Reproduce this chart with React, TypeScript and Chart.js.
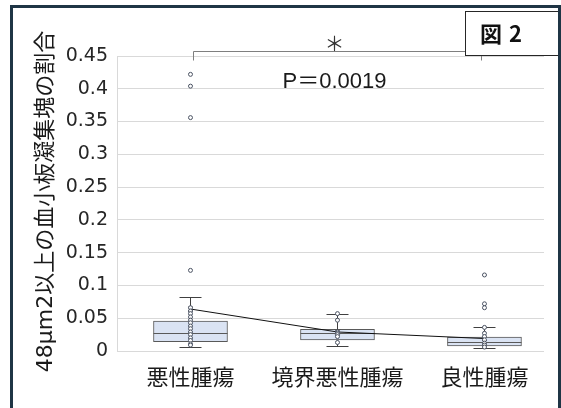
import React, { useEffect, useRef } from "react";
import { Chart, registerables } from "chart.js";

Chart.register(...registerables);

// ---- data ----
const categories = ["悪性腫瘍", "境界悪性腫瘍", "良性腫瘍"];
const whiskerLow = [0.0056, 0.0081, 0.004];
const q1 = [0.0142, 0.0168, 0.0076];
const median = [0.027, 0.027, 0.0133];
const q3 = [0.0457, 0.033, 0.0213];
const whiskerHigh = [0.0818, 0.056, 0.037];
const means = [0.064, 0.029, 0.019];
const pointsMalignant = [
  0.422, 0.404, 0.356, 0.123, 0.066, 0.061, 0.057, 0.052, 0.047, 0.043, 0.038,
  0.034, 0.029, 0.025, 0.02, 0.016, 0.011, 0.009,
];
const pointsBorderline = [0.057, 0.047, 0.029, 0.027, 0.025, 0.022, 0.013];
const pointsBenign = [0.116, 0.072, 0.066, 0.036, 0.027, 0.022, 0.017, 0.012, 0.009, 0.006];
const yTicks = [0, 0.05, 0.1, 0.15, 0.2, 0.25, 0.3, 0.35, 0.4, 0.45];
const yTitle = "48μm2以上の血小板凝集塊の割合";
const pValueText = "P＝0.0019";
const sigMark = "＊";
const figLabel = "図2";

const CJK = '"Noto Sans CJK JP", sans-serif';
const LATIN_CJK = '"DejaVu Sans", "Noto Sans CJK JP", sans-serif';

const dotData = [
  ...pointsMalignant.map((v) => ({ x: 0, y: v })),
  ...pointsBorderline.map((v) => ({ x: 1, y: v })),
  ...pointsBenign.map((v) => ({ x: 2, y: v })),
];

const annotate = {
  id: "annotate",
  afterDatasetDraw(chart: any, args: any) {
    if (args.index !== 2) return;
    const { ctx, scales } = chart;
    const x = scales.x;
    const y = scales.y;
    const meta = chart.getDatasetMeta(2);
    ctx.save();
    ctx.lineWidth = 1;
    categories.forEach((_, i) => {
      const bar = meta.data[i];
      const cx = Math.round(x.getPixelForValue(i)) + 0.5;
      const left = bar.x - bar.width / 2;
      const right = bar.x + bar.width / 2;
      const py = (v: number) => Math.round(y.getPixelForValue(v)) + 0.5;
      // median
      ctx.strokeStyle = "#595959";
      ctx.beginPath();
      ctx.moveTo(left, py(median[i]));
      ctx.lineTo(right, py(median[i]));
      ctx.stroke();
      // whiskers
      ctx.strokeStyle = "#404040";
      ctx.beginPath();
      ctx.moveTo(cx, py(q3[i]));
      ctx.lineTo(cx, py(whiskerHigh[i]));
      ctx.moveTo(cx - 11, py(whiskerHigh[i]));
      ctx.lineTo(cx + 11, py(whiskerHigh[i]));
      ctx.moveTo(cx, py(q1[i]));
      ctx.lineTo(cx, py(whiskerLow[i]));
      ctx.moveTo(cx - 11, py(whiskerLow[i]));
      ctx.lineTo(cx + 11, py(whiskerLow[i]));
      ctx.stroke();
    });
    ctx.restore();
  },
  afterDraw(chart: any) {
    const { ctx, scales } = chart;
    const x = scales.x;
    const y = scales.y;
    ctx.save();
    // y title
    ctx.save();
    ctx.translate(46, (y.top + y.bottom) / 2 - 2);
    ctx.rotate(-Math.PI / 2);
    ctx.font = `22px ${LATIN_CJK}`;
    ctx.fillStyle = "#1a1a1a";
    ctx.textAlign = "center";
    ctx.textBaseline = "middle";
    ctx.fillText(yTitle, 0, 0);
    ctx.restore();

    // significance bracket
    const bx1 = Math.round(x.getPixelForValue(0.02)) + 0.5;
    const bx2 = Math.round(x.getPixelForValue(1.975)) + 0.5;
    const by = Math.round(y.getPixelForValue(0.457)) + 0.5;
    const byEnd = Math.round(y.getPixelForValue(0.444)) + 0.5;
    ctx.strokeStyle = "#7f7f7f";
    ctx.lineWidth = 1;
    ctx.beginPath();
    ctx.moveTo(bx1, byEnd);
    ctx.lineTo(bx1, by);
    ctx.lineTo(bx2, by);
    ctx.lineTo(bx2, byEnd);
    ctx.stroke();

    ctx.fillStyle = "#333";
    ctx.textAlign = "center";
    ctx.textBaseline = "middle";
    ctx.font = `20px ${CJK}`;
    ctx.fillText(sigMark, x.getPixelForValue(0.98), y.getPixelForValue(0.469));

    ctx.fillStyle = "#1a1a1a";
    ctx.font = `22px "Liberation Sans", "Noto Sans CJK JP", sans-serif`;
    ctx.fillText(pValueText, x.getPixelForValue(0.98), y.getPixelForValue(0.41));

    // figure label box
    ctx.fillStyle = "#ffffff";
    ctx.fillRect(465, 11, 96, 44);
    ctx.strokeStyle = "#262626";
    ctx.lineWidth = 1;
    ctx.strokeRect(465.5, 11.5, 96, 44);
    ctx.fillStyle = "#111";
    ctx.font = `bold 22px ${CJK}`;
    ctx.textAlign = "left";
    (ctx as any).letterSpacing = "7px";
    ctx.fillText(figLabel, 480, 34);
    (ctx as any).letterSpacing = "0px";

    // outer frame
    ctx.strokeStyle = "#1f3545";
    ctx.lineWidth = 3;
    ctx.strokeRect(11.5, 6.5, 548, 500);
    ctx.restore();
  },
};

export default function App() {
  const ref = useRef<HTMLCanvasElement>(null);
  useEffect(() => {
    if (!ref.current) return;
    const chart = new Chart(ref.current, {
      type: "bar",
      data: {
        datasets: [
          {
            type: "scatter",
            data: dotData,
            pointRadius: 2,
            pointHoverRadius: 2,
            pointBorderWidth: 1,
            pointBackgroundColor: "#ffffff",
            pointBorderColor: "#4a5262",
          },
          {
            type: "line",
            data: means.map((m, i) => ({ x: i, y: m })),
            borderColor: "#111",
            borderWidth: 1,
            pointStyle: "crossRot",
            pointRadius: 3,
            pointHoverRadius: 3,
            pointBorderColor: "#111",
            pointBorderWidth: 1,
            fill: false,
            tension: 0,
          },
          {
            type: "bar",
            data: categories.map((_, i) => ({ x: i, y: [q1[i], q3[i]] })),
            backgroundColor: "#dae3f3",
            borderColor: "#595959",
            borderWidth: 1,
            borderSkipped: false,
            barThickness: 74,
          },
        ],
      } as any,
      options: {
        responsive: false,
        animation: false,
        events: [],
        plugins: { legend: { display: false }, tooltip: { enabled: false } },
        layout: { padding: { left: 0, top: 56, right: 17, bottom: 0 } },
        scales: {
          x: {
            type: "linear",
            min: -0.5,
            max: 2.405,
            offset: false,
            grid: { display: false, offset: false },
            border: { display: false },
            afterBuildTicks: (s: any) => {
              s.ticks = categories.map((_, i) => ({ value: i }));
            },
            ticks: {
              callback: (v: any) => categories[v] ?? "",
              font: { family: CJK, size: 22 },
              color: "#1a1a1a",
              padding: 4,
              maxRotation: 0,
              autoSkip: false,
            },
            afterFit: (s: any) => {
              s.height = 57;
            },
          },
          y: {
            min: 0,
            max: 0.45,
            afterBuildTicks: (s: any) => {
              s.ticks = yTicks.map((v) => ({ value: v }));
            },
            ticks: {
              callback: (v: any) => String(Number(Number(v).toFixed(2))),
              padding: 9,
              font: { family: '"DejaVu Sans", sans-serif', size: 19 },
              color: "#262626",
            },
            grid: { color: "#d9d9d9", drawTicks: false },
            border: { display: true, color: "#d9d9d9" },
            afterFit: (s: any) => {
              s.width = 117;
            },
          },
        },
      } as any,
      plugins: [annotate],
    });
    return () => chart.destroy();
  }, []);
  return (
    <div style={{ position: "absolute", left: 0, top: 0, width: 561, height: 408, background: "#fff" }}>
      <canvas ref={ref} width={561} height={408} style={{ display: "block" }} />
    </div>
  );
}
